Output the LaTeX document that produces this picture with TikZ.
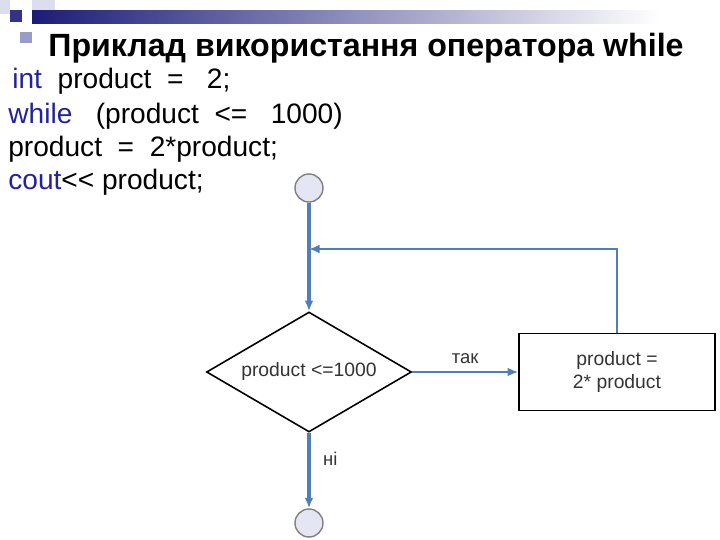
\documentclass[tikz,border=0pt]{standalone}
\usepackage{fontspec}
\setmainfont{Liberation Sans}
\usepackage{tikz}
\usetikzlibrary{arrows.meta, positioning, shapes.geometric}

\definecolor{flowblue}{HTML}{4F7EBB}
\definecolor{keyblue}{HTML}{2222A0}
\definecolor{termfill}{HTML}{E4E7F3}
\definecolor{navybar}{HTML}{1C1C78}
\definecolor{palesq}{HTML}{DCDDEE}
\definecolor{midsq}{HTML}{9A9CC8}

\begin{document}
\begin{tikzpicture}[
  x=0.02cm, y=-0.02cm,
  terminal/.style={circle, draw=gray, fill=termfill, line width=0.8pt, minimum size=28*0.02cm, inner sep=0pt},
  decision/.style={diamond, draw, line width=0.9pt, aspect=1.7, minimum width=205*0.02cm, minimum height=120*0.02cm, inner sep=0pt, font=\fontsize{11}{12}\selectfont, text=black!80},
  process/.style={rectangle, draw, line width=0.9pt, minimum width=196*0.02cm, minimum height=77*0.02cm, align=center, font=\fontsize{11}{13}\selectfont, text=black!80},
  codeline/.style={anchor=base west, inner sep=0pt, font=\fontsize{16}{18}\selectfont},
  flowlabel/.style={font=\fontsize{10.5}{12}\selectfont, text=black!80, inner sep=1pt},
  flow/.style={draw=flowblue, line width=2.2pt, -{Latex[length=6pt,width=5pt]}},
  >=Latex
]
  \useasboundingbox (0,0) rectangle (720,540);

  %------------------------------------------------------------
  %  SLIDE DECORATION
  %------------------------------------------------------------
  \fill[palesq] (0,0) rectangle (10,14);
  \fill[palesq] (32,0) rectangle (55,11);
  \fill[midsq] (20,32) rectangle (32,43);
  \fill[navybar!90] (10,10) rectangle (22,22);
  \shade[left color=navybar, right color=white] (32,11) rectangle (660,24);

  %------------------------------------------------------------
  %  TITLE AND CODE
  %------------------------------------------------------------
  \node[font=\fontsize{18.3}{21}\bfseries\selectfont, anchor=base] (title) at (366,57)
    {Приклад використання оператора while};

  \node[codeline] (line1) at (12,89)  {\textcolor{keyblue}{int}\ \ product\ \ =\ \ \ 2;};
  \node[codeline] (line2) at (8,124)  {\textcolor{keyblue}{while}\ \ \ (product\ \ <=\ \ \ 1000)};
  \node[codeline] (line3) at (8,157)  {product\ \ =\ \ 2*product;};
  \node[codeline] (line4) at (8,190)  {\textcolor{keyblue}{cout}<{}<\ product;};

  %------------------------------------------------------------
  %  FLOWCHART
  %------------------------------------------------------------
  \node[terminal] (start) at (309,188) {};
  \node[decision] (cond)  at (309,372) {product <=1000};
  \node[process]  (body)  at (617,372) {product =\\2* product};
  \node[terminal] (stop)  at (309,523) {};

  \coordinate (join) at (309,249);
  \coordinate (back) at (body.north |- join);

  \draw[flow, -] (start.south) -- (join);
  \draw[flow] (join) -- (cond.north);
  \draw[flow, line width=1.6pt] (cond.east)
    -- node[flowlabel, above=3pt] {так} (body.west);
  \draw[flow, line width=1.6pt] (body.north) -- (back) -- (join);
  \draw[flow] (cond.south)
    -- node[flowlabel, right=6pt, pos=0.35] {ні} (stop.north);

\end{tikzpicture}
\end{document}
